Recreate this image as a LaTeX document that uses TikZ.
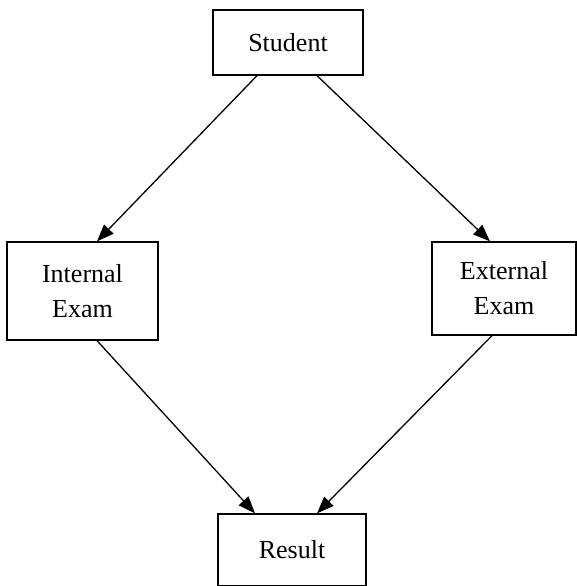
\documentclass[tikz,border=0pt]{standalone}
\usepackage{fontspec}
\setmainfont{Liberation Serif}
\usetikzlibrary{arrows.meta}
\begin{document}
\begin{tikzpicture}[x=1pt,y=-1pt,
  box/.style={draw=black,line width=1.3pt,inner sep=0pt,align=center,
    font=\fontsize{26}{35}\selectfont},
  arr/.style={line width=1.3pt,-{Triangle[length=17pt,width=13pt]}}]
\useasboundingbox (0,0) rectangle (576,586);
\node[box,minimum width=150pt,minimum height=65pt] (student) at (288,42.5) {Student};
\node[box,minimum width=151pt,minimum height=98pt] (internal) at (82.5,291) {Internal\\Exam};
\node[box,minimum width=144pt,minimum height=93pt] (external) at (504,288.5) {External\\Exam};
\node[box,minimum width=148pt,minimum height=72pt] (result) at (292,550) {Result};
\draw[arr] ([xshift=-31pt]student.south) -- ([xshift=14.5pt]internal.north);
\draw[arr] ([xshift=29pt]student.south) -- ([xshift=-14pt]external.north);
\draw[arr] ([xshift=14.5pt]internal.south) -- ([xshift=-37pt]result.north);
\draw[arr] ([xshift=-12pt]external.south) -- ([xshift=25pt]result.north);
\end{tikzpicture}
\end{document}
